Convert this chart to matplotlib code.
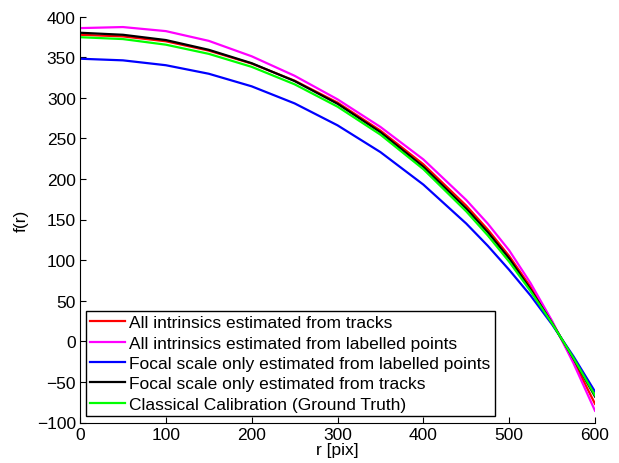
import numpy as np
import matplotlib
matplotlib.use("Agg")
import matplotlib.pyplot as plt

plt.rcParams['font.family'] = ['Liberation Sans', 'DejaVu Sans']

# radius samples [pix]
r = [0, 50, 100, 150, 200, 250, 300, 350, 400, 450, 475, 500, 525, 550, 575, 600]

# f(r)
f_tracks_all = [377.5, 375.5, 369.5, 358, 342, 321, 294, 259.5, 218, 167, 137.7, 105, 66.8, 23.7, -24.2, -77]
f_labelled_all = [385.7, 387, 382, 370, 351, 327, 298, 264, 224, 174, 145, 112, 71.5, 25.1, -27.2, -85.5]
f_labelled_focal = [348, 346, 340, 329.5, 314, 293, 266, 233, 193, 145, 117.7, 88, 56.3, 20.7, -18.7, -62]
f_tracks_focal = [380, 377.5, 371, 359, 342.5, 320.5, 292.5, 257.5, 215, 163.5, 134.4, 102, 63.6, 22.5, -21.4, -68]
f_ground_truth = [374.5, 372.2, 365.3, 354, 338, 316.5, 289, 254.5, 212, 160, 130.5, 98, 61.6, 22, -20.7, -66.5]

series = [
    ("All intrinsics estimated from tracks", f_tracks_all, "#ff0000"),
    ("All intrinsics estimated from labelled points", f_labelled_all, "#ff00ff"),
    ("Focal scale only estimated from labelled points", f_labelled_focal, "#0000ff"),
    ("Focal scale only estimated from tracks", f_tracks_focal, "#000000"),
    ("Classical Calibration (Ground Truth)", f_ground_truth, "#00ff00"),
]

fig = plt.figure(figsize=(6.19, 4.64), dpi=100)
ax = fig.add_axes([80 / 619, 1 - 423.5 / 464, 515 / 619, 406 / 464])

for label, vals, col in series:
    ax.plot(r, vals, color=col, lw=1.6, label=label)

ax.set_xlim(0, 600)
ax.set_ylim(-100, 400)
ax.set_xticks(range(0, 601, 100))
ax.set_yticks(range(-100, 401, 50))
ax.tick_params(direction='in', length=4, width=0.8, labelsize=12.5, pad=3)
ax.spines['top'].set_visible(False)
ax.spines['right'].set_visible(False)
for s in ('left', 'bottom'):
    ax.spines[s].set_linewidth(0.8)

ax.set_xlabel("r [pix]", fontsize=12.5, labelpad=0)
ax.set_ylabel("f(r)", fontsize=12.5, labelpad=6)

leg = ax.legend(loc='lower left', bbox_to_anchor=(86 / 619, 1 - 417 / 464),
                bbox_transform=fig.transFigure, borderaxespad=0,
                fontsize=12.5, handlelength=2.0, handletextpad=0.25,
                labelspacing=0.3, borderpad=0.25, fancybox=False,
                framealpha=1, edgecolor='black')
leg.get_frame().set_linewidth(1.0)

fig.savefig("out.png", dpi=100)
